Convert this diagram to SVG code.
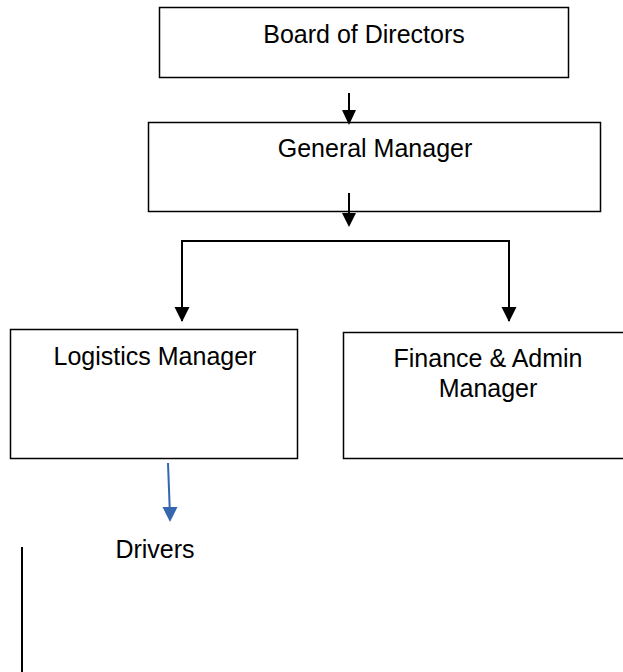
<svg xmlns="http://www.w3.org/2000/svg" width="623" height="672" viewBox="0 0 623 672">
<style>
.box{fill:#fff;stroke:#000;stroke-width:1.5}
.t{font-family:"Liberation Sans",Arial,sans-serif;font-size:25px;fill:#000;text-anchor:middle}
.c{fill:none;stroke:#000;stroke-width:2}
.cb{fill:none;stroke:#3566AE;stroke-width:2}
</style>
<g id="connectors">
<line class="c" x1="349" y1="93" x2="349" y2="125"/>
<path class="c" d="M182,321 V241 H509 V321"/>
</g>
<g id="board">
<rect class="box" x="159.5" y="7.5" width="409" height="70"/>
<text class="t" x="364" y="43">Board of Directors</text>
</g>
<g id="gm">
<rect class="box" x="148.5" y="122.5" width="452" height="89"/>
<text class="t" x="375" y="157">General Manager</text>
</g>
<g id="arrows">
<path d="M342,110 L356,110 L349,125 Z" fill="#000"/>
<line class="c" x1="349" y1="193" x2="349" y2="214"/>
<path d="M342,213 L356,213 L349,227 Z" fill="#000"/>
<path d="M174.5,307 L189.5,307 L182,322 Z" fill="#000"/>
<path d="M501.5,307 L516.5,307 L509,322 Z" fill="#000"/>
<line class="cb" x1="168" y1="463" x2="169.7" y2="508"/>
<path d="M162.5,507 L177.5,507 L170,522 Z" fill="#3566AE"/>
<line class="c" x1="22" y1="547" x2="22" y2="672"/>
</g>
<g id="logistics">
<rect class="box" x="10.5" y="329.5" width="287" height="129"/>
<text class="t" x="155" y="365">Logistics Manager</text>
</g>
<g id="finance">
<rect class="box" x="343.5" y="332.5" width="283" height="126"/>
<text class="t" x="488" y="367">Finance &amp; Admin</text>
<text class="t" x="488" y="397">Manager</text>
</g>
<g id="drivers">
<text class="t" x="155" y="558">Drivers</text>
</g>
</svg>
